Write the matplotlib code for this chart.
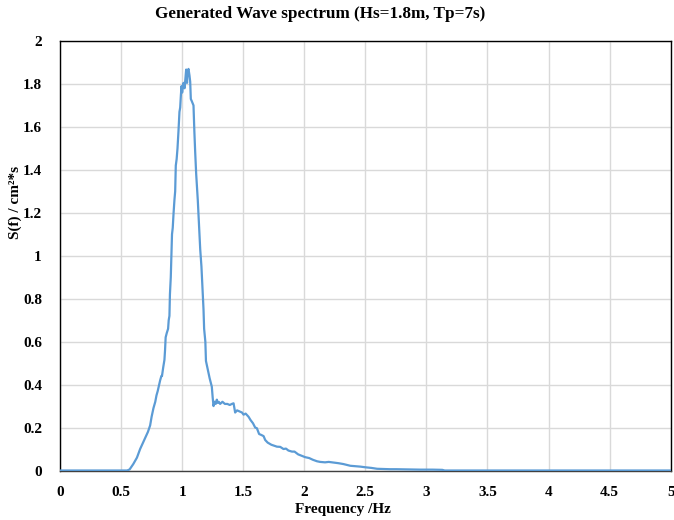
import matplotlib
matplotlib.use("Agg")
import matplotlib.pyplot as plt

# Measured wave spectrum S(f) of the generated sea state
freq = [0.00, 0.55, 0.57, 0.60, 0.63, 0.656, 0.68, 0.70, 0.72, 0.738, 0.75, 0.765,
        0.78, 0.79, 0.80, 0.82, 0.83, 0.835, 0.845, 0.855, 0.86, 0.865, 0.874, 0.885,
        0.89, 0.896, 0.90, 0.907, 0.912, 0.917, 0.923, 0.93, 0.937, 0.943, 0.948,
        0.955, 0.962, 0.97, 0.978, 0.984, 0.99, 0.995, 1.00, 1.011, 1.02, 1.033,
        1.04, 1.045, 1.052, 1.06, 1.066, 1.071, 1.079, 1.093, 1.10, 1.107, 1.115,
        1.128, 1.138, 1.148, 1.158, 1.167, 1.175, 1.18, 1.19, 1.195, 1.21, 1.225,
        1.243, 1.25, 1.257, 1.265, 1.275, 1.284, 1.29, 1.30, 1.311, 1.33, 1.35,
        1.37, 1.39, 1.407, 1.421, 1.434, 1.45, 1.47, 1.49, 1.503, 1.52, 1.544,
        1.56, 1.58, 1.598, 1.612, 1.63, 1.65, 1.667, 1.68, 1.70, 1.73, 1.776,
        1.803, 1.83, 1.85, 1.87, 1.899, 1.92, 1.95, 1.98, 2.008, 2.04, 2.07,
        2.104, 2.13, 2.17, 2.20, 2.24, 2.28, 2.32, 2.377, 2.42, 2.46, 2.50,
        2.55, 2.596, 2.65, 2.70, 2.75, 2.84, 2.95, 3.05, 3.13, 3.15, 5.00]
spec = [0.000, 0.000, 0.005, 0.030, 0.060, 0.100, 0.130, 0.155, 0.180, 0.210, 0.250, 0.290,
        0.320, 0.350, 0.370, 0.420, 0.440, 0.440, 0.480, 0.515, 0.560, 0.620, 0.640, 0.660,
        0.700, 0.720, 0.820, 0.900, 1.000, 1.100, 1.130, 1.200, 1.260, 1.300, 1.420,
        1.450, 1.500, 1.580, 1.670, 1.690, 1.750, 1.790, 1.760, 1.805, 1.780, 1.867,
        1.805, 1.860, 1.870, 1.840, 1.810, 1.730, 1.720, 1.700, 1.580, 1.480, 1.380,
        1.260, 1.140, 1.030, 0.950, 0.840, 0.750, 0.660, 0.600, 0.510, 0.470, 0.430,
        0.390, 0.340, 0.300, 0.320, 0.310, 0.330, 0.315, 0.320, 0.310, 0.320, 0.310,
        0.310, 0.305, 0.310, 0.313, 0.270, 0.280, 0.275, 0.270, 0.260, 0.265, 0.250,
        0.235, 0.220, 0.200, 0.197, 0.170, 0.165, 0.160, 0.142, 0.130, 0.120, 0.111,
        0.110, 0.100, 0.102, 0.093, 0.088, 0.088, 0.075, 0.068, 0.062, 0.058, 0.050,
        0.043, 0.040, 0.038, 0.040, 0.037, 0.034, 0.030, 0.022, 0.020, 0.018, 0.015,
        0.012, 0.008, 0.007, 0.006, 0.006, 0.005, 0.004, 0.004, 0.003, 0.000, 0.000]

x_ticks = [0, 0.5, 1, 1.5, 2, 2.5, 3, 3.5, 4, 4.5, 5]
x_tick_labels = ["0", "0.5", "1", "1.5", "2", "2.5", "3", "3.5", "4", "4.5", "5"]
y_ticks = [0, 0.2, 0.4, 0.6, 0.8, 1, 1.2, 1.4, 1.6, 1.8, 2]
y_tick_labels = ["0", "0.2", "0.4", "0.6", "0.8", "1", "1.2", "1.4", "1.6", "1.8", "2"]

plt.rcParams["font.family"] = ["Liberation Serif", "DejaVu Serif"]
plt.rcParams["font.weight"] = "bold"

W, H = 674, 520
fig = plt.figure(figsize=(W / 100, H / 100), dpi=100)
ax = fig.add_axes([60 / W, (H - 470.5) / H, 610.7 / W, 429.5 / H])

ax.plot(freq, spec, color="#5B9BD5", linewidth=1.6, solid_joinstyle="round", zorder=3)

ax.set_xlim(0, 5)
ax.set_ylim(0, 2)
ax.set_xticks(x_ticks)
ax.set_xticklabels(x_tick_labels, fontsize=11, fontweight="bold")
ax.set_yticks(y_ticks)
ax.set_yticklabels(y_tick_labels, fontsize=11, fontweight="bold")
ax.tick_params(length=0)
ax.tick_params(axis="x", pad=11)
ax.tick_params(axis="y", pad=13)
ax.grid(True, color="#D9D9D9", linewidth=1.0, zorder=0)
ax.set_axisbelow(True)
for side in ["top", "right", "left"]:
    ax.spines[side].set_color("#000000")
    ax.spines[side].set_linewidth(1.0)
ax.spines["bottom"].set_color("#404040")
ax.spines["bottom"].set_linewidth(1.0)

fig.text(320 / W, 1 - 14 / H, "Generated Wave spectrum (Hs=1.8m, Tp=7s)",
         ha="center", va="center", fontsize=12.3, fontweight="bold")
fig.text(343 / W, 1 - 510 / H, "Frequency /Hz",
         ha="center", va="center", fontsize=11, fontweight="bold")
fig.text(15 / W, 1 - 202 / H, "S(f) / cm\u00b2*s", rotation=90,
         ha="center", va="center", fontsize=11, fontweight="bold")

fig.savefig("out.png", dpi=100)
